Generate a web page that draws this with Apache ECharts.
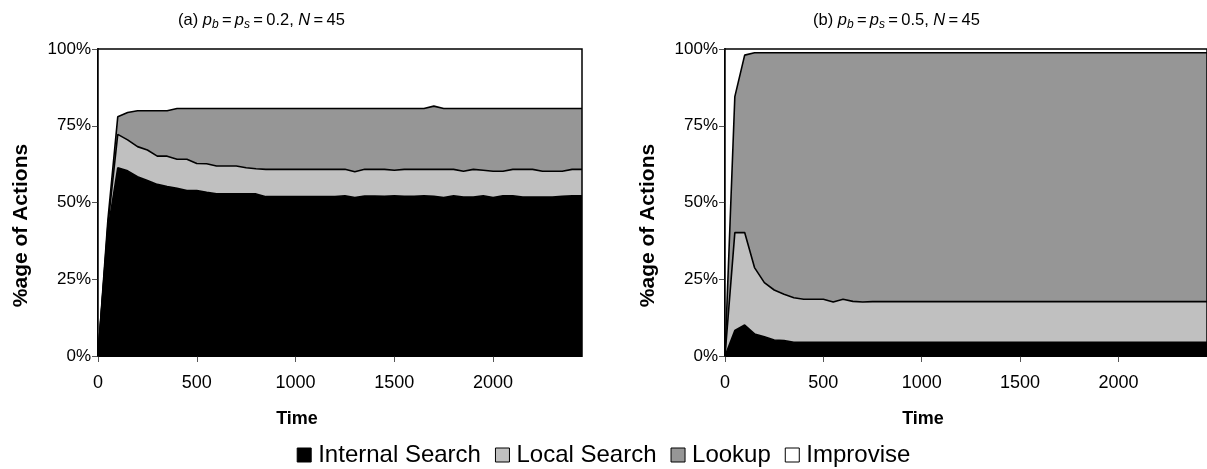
<!DOCTYPE html>
<html>
<head>
<meta charset="utf-8">
<script src="https://cdn.jsdelivr.net/npm/echarts@6/dist/echarts.min.js"></script>
<style>
html,body{margin:0;padding:0;background:#fff;}
#chart{width:1207px;height:469px;}
</style>
</head>
<body>
<div id="chart"></div>
<script>
// Time steps (every 50 time units)
const times = [0,50,100,150,200,250,300,350,400,450,500,550,600,650,700,750,800,850,900,950,1000,1050,1100,1150,1200,1250,1300,1350,1400,1450,1500,1550,1600,1650,1700,1750,1800,1850,1900,1950,2000,2050,2100,2150,2200,2250,2300,2350,2400,2450];
const xTickLabels = ['0','500','1000','1500','2000'];
const yTicks = [0,25,50,75,100];
const seriesNames = ['Internal Search','Local Search','Lookup','Improvise'];

// (a) p_b = p_s = 0.2 : share of actions (%)
const aInternal = [0,41,61.3,60.3,58.4,57.2,55.9,55.2,54.6,53.9,53.9,53.3,52.8,52.8,52.8,52.8,52.8,51.9,51.9,51.9,51.9,51.9,51.9,51.9,51.9,52.2,51.6,52.1,52.1,52.0,52.2,52.0,52.0,52.2,52.0,51.6,52.2,51.8,51.8,52.2,51.6,52.2,52.2,51.8,51.8,51.8,51.8,52.0,52.2,52.2];
const aLocal    = [0,1.5,10.9,10.1,9.8,9.9,9.2,9.9,9.5,10.2,8.8,9.3,9.1,9.1,9.1,8.5,8.2,8.9,8.9,8.9,8.9,8.9,8.9,8.9,8.9,8.6,8.4,8.7,8.7,8.8,8.3,8.8,8.8,8.6,8.8,9.2,8.6,8.4,9.0,8.3,8.6,8.0,8.6,9.0,9.0,8.4,8.4,8.2,8.6,8.6];
const aLookup   = [0,1.8,5.7,8.9,11.7,12.8,14.8,14.8,16.5,16.5,17.9,18.0,18.7,18.7,18.7,19.3,19.6,19.8,19.8,19.8,19.8,19.8,19.8,19.8,19.8,19.8,20.6,19.8,19.8,19.8,20.1,19.8,19.8,19.8,20.6,19.8,19.8,20.4,19.8,20.1,20.4,20.4,19.8,19.8,19.8,20.4,20.4,20.4,19.8,19.8];
const aImprovise= [100,55.7,22.1,20.7,20.1,20.1,20.1,20.1,19.4,19.4,19.4,19.4,19.4,19.4,19.4,19.4,19.4,19.4,19.4,19.4,19.4,19.4,19.4,19.4,19.4,19.4,19.4,19.4,19.4,19.4,19.4,19.4,19.4,19.4,18.6,19.4,19.4,19.4,19.4,19.4,19.4,19.4,19.4,19.4,19.4,19.4,19.4,19.4,19.4,19.4];

// (b) p_b = p_s = 0.5 : share of actions (%)
const bInternal = [0,8.3,10.1,7.2,6.3,5.2,5.0,4.5,4.5,4.5,4.5,4.5,4.5,4.5,4.5,4.5,4.5,4.5,4.5,4.5,4.5,4.5,4.5,4.5,4.5,4.5,4.5,4.5,4.5,4.5,4.5,4.5,4.5,4.5,4.5,4.5,4.5,4.5,4.5,4.5,4.5,4.5,4.5,4.5,4.5,4.5,4.5,4.5,4.5,4.5];
const bLocal    = [0,31.9,30.1,21.6,17.6,16.3,15.1,14.5,14.0,14.0,14.0,13.1,14.0,13.3,13.1,13.2,13.2,13.2,13.2,13.2,13.2,13.2,13.2,13.2,13.2,13.2,13.2,13.2,13.2,13.2,13.2,13.2,13.2,13.2,13.2,13.2,13.2,13.2,13.2,13.2,13.2,13.2,13.2,13.2,13.2,13.2,13.2,13.2,13.2,13.2];
const bLookup   = [0,44.3,57.8,70.0,74.9,77.3,78.7,79.8,80.3,80.3,80.3,81.2,80.3,81.0,81.2,81.1,81.1,81.1,81.1,81.1,81.1,81.1,81.1,81.1,81.1,81.1,81.1,81.1,81.1,81.1,81.1,81.1,81.1,81.1,81.1,81.1,81.1,81.1,81.1,81.1,81.1,81.1,81.1,81.1,81.1,81.1,81.1,81.1,81.1,81.1];
const bImprovise= [100,15.5,2.0,1.2,1.2,1.2,1.2,1.2,1.2,1.2,1.2,1.2,1.2,1.2,1.2,1.2,1.2,1.2,1.2,1.2,1.2,1.2,1.2,1.2,1.2,1.2,1.2,1.2,1.2,1.2,1.2,1.2,1.2,1.2,1.2,1.2,1.2,1.2,1.2,1.2,1.2,1.2,1.2,1.2,1.2,1.2,1.2,1.2,1.2,1.2];

const fills = ['#000000','#c0c0c0','#969696','#ffffff'];
const FONT = 'Liberation Sans, Arial, sans-serif';
const categories = times.map(String);
const showTick = (i, v) => xTickLabels.indexOf(v) >= 0;

function mkSeries(idx, stackName, arrs){
  return arrs.map((vals, k) => ({
    name: seriesNames[k],
    type: 'line',
    xAxisIndex: idx, yAxisIndex: idx,
    stack: stackName,
    symbol: 'none',
    data: vals,
    itemStyle: {color: fills[k]},
    lineStyle: {color: '#000', width: k === 3 ? 0 : 1.6},
    areaStyle: {color: fills[k], opacity: 1},
    z: 2
  }));
}

const TS = 16.5;
const titleRich = {
  n: {fontSize: TS, fontFamily: FONT, fontWeight: 'normal', color: '#000'},
  i: {fontSize: TS, fontFamily: FONT, fontWeight: 'normal', fontStyle: 'italic', color: '#000'},
  s: {fontSize: 12, fontFamily: FONT, fontWeight: 'normal', fontStyle: 'italic', color: '#000', padding: [9,0,0,0]}
};
const eq = '{n|\u2009=\u2009}';

function xAxis(idx){
  return {
    type: 'category', gridIndex: idx, data: categories, boundaryGap: false,
    name: 'Time', nameLocation: 'middle', nameGap: 54,
    nameTextStyle: {fontFamily: FONT, fontSize: 18, fontWeight: 'bold', color: '#000', padding: [0, 86, 0, 0]},
    axisLine: {lineStyle: {color: '#000', width: 1}},
    axisTick: {show: true, inside: false, length: 6, lineStyle: {color: '#555'}, interval: showTick},
    axisLabel: {fontFamily: FONT, fontSize: 18, color: '#000', margin: 18, interval: showTick},
    splitLine: {show: false}
  };
}
function yAxis(idx){
  return {
    type: 'value', gridIndex: idx, min: yTicks[0], max: yTicks[yTicks.length-1], interval: yTicks[1]-yTicks[0],
    name: '%age of Actions', nameLocation: 'middle', nameGap: 66, nameRotate: 90,
    nameTextStyle: {fontFamily: FONT, fontSize: 21, fontWeight: 'bold', color: '#000', padding: [0, 46, 0, 0]},
    axisLine: {show: true, lineStyle: {color: '#000', width: 2}},
    axisTick: {show: true, inside: false, length: 6, lineStyle: {color: '#555'}},
    axisLabel: {fontFamily: FONT, fontSize: 17, color: '#000', margin: 7, formatter: '{value}%'},
    splitLine: {show: false}
  };
}

const chart = echarts.init(document.getElementById('chart'), null, {renderer: 'canvas'});
chart.setOption({
  animation: false,
  backgroundColor: '#fff',
  title: [
    {text: '{n|(a) }{i|p}{s|b}' + eq + '{i|p}{s|s}' + eq + '{n|0.2, }{i|N}' + eq + '{n|45}', left: 173, top: 5,
     textStyle: {rich: titleRich}},
    {text: '{n|(b) }{i|p}{s|b}' + eq + '{i|p}{s|s}' + eq + '{n|0.5, }{i|N}' + eq + '{n|45}', left: 808, top: 5,
     textStyle: {rich: titleRich}}
  ],
  legend: {
    top: 438, left: 'center', icon: 'rect', itemWidth: 14, itemHeight: 14, itemGap: 14,
    data: seriesNames,
    itemStyle: {borderColor: '#000', borderWidth: 1},
    textStyle: {fontFamily: FONT, fontSize: 24, color: '#000', padding: [0,0,0,2]}
  },
  grid: [
    {left: 98, top: 49, width: 484, height: 307, show: true, borderColor: '#000', borderWidth: 1.5, backgroundColor: 'transparent', z: 3},
    {left: 725, top: 49, width: 484, height: 307, show: true, borderColor: '#000', borderWidth: 1.5, backgroundColor: 'transparent', z: 3}
  ],
  xAxis: [xAxis(0), xAxis(1)],
  yAxis: [yAxis(0), yAxis(1)],
  series: [].concat(
    mkSeries(0, 'a', [aInternal, aLocal, aLookup, aImprovise]),
    mkSeries(1, 'b', [bInternal, bLocal, bLookup, bImprovise])
  )
});
</script>
</body>
</html>
